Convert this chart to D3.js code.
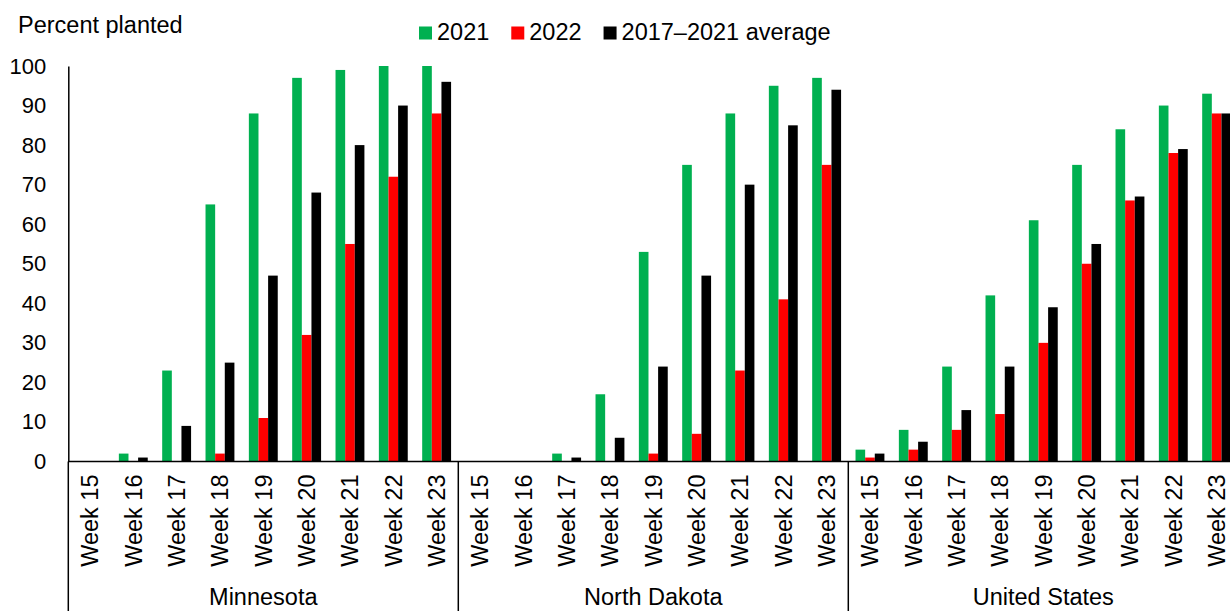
<!DOCTYPE html>
<html>
<head>
<meta charset="utf-8">
<script src="https://cdn.jsdelivr.net/npm/d3@7"></script>
<style>
  html, body { margin: 0; padding: 0; background: #fff; }
  svg { display: block; font-family: "Liberation Sans", Arial, sans-serif; }
</style>
</head>
<body>
<svg id="chart" width="1230" height="611"></svg>
<script>
// Planting progress by week: state groups, weekly categories, three series
const regions = ["Minnesota", "North Dakota", "United States"];
const weeks = ["Week 15", "Week 16", "Week 17", "Week 18", "Week 19", "Week 20", "Week 21", "Week 22", "Week 23"];
const seriesNames = ["2021", "2022", "2017\u20132021 average"];
const seriesColors = ["#00B050", "#FF0000", "#000000"];
const yTicks = [0, 10, 20, 30, 40, 50, 60, 70, 80, 90, 100];

// Percent planted, week 15 through week 23
const minnesota2021 = [0, 2, 23, 65, 88, 97, 99, 100, 100];
const minnesota2022 = [0, 0, 0, 2, 11, 32, 55, 72, 88];
const minnesotaAvg  = [0, 1, 9, 25, 47, 68, 80, 90, 96];

const northDakota2021 = [0, 0, 2, 17, 53, 75, 88, 95, 97];
const northDakota2022 = [0, 0, 0, 0, 2, 7, 23, 41, 75];
const northDakotaAvg  = [0, 0, 1, 6, 24, 47, 70, 85, 94];

const unitedStates2021 = [3, 8, 24, 42, 61, 75, 84, 90, 93];
const unitedStates2022 = [1, 3, 8, 12, 30, 50, 66, 78, 88];
const unitedStatesAvg  = [2, 5, 13, 24, 39, 55, 67, 79, 88];

const regionSeries = {
  "Minnesota": [minnesota2021, minnesota2022, minnesotaAvg],
  "North Dakota": [northDakota2021, northDakota2022, northDakotaAvg],
  "United States": [unitedStates2021, unitedStates2022, unitedStatesAvg]
};

// Flatten into one record per bar
const records = [];
regions.forEach(r => {
  weeks.forEach((w, i) => {
    seriesNames.forEach((s, k) => {
      records.push({ region: r, week: w, series: s, value: regionSeries[r][k][i] });
    });
  });
});

const svg = d3.select("#chart");
const tickFont = 22;
const labelFont = 23.5;

const plotLeft = 68.3;
const plotRight = 1238.3;
const plotTop = 66;
const plotBottom = 461.5;
const svgBottom = 611;

const x0 = d3.scaleBand().domain(regions).range([plotLeft, plotRight]).padding(0);
const x1 = d3.scaleBand().domain(weeks).range([0, x0.bandwidth()]).padding(0);
const x2 = d3.scaleBand().domain(seriesNames).range([0, x1.bandwidth()])
  .paddingInner(0).paddingOuter(0.75);
const y = d3.scaleLinear().domain([0, 100]).range([plotBottom, plotTop]);
const color = d3.scaleOrdinal().domain(seriesNames).range(seriesColors);

// Bars
svg.append("g")
  .selectAll("rect")
  .data(records)
  .join("rect")
  .attr("x", d => x0(d.region) + x1(d.week) + x2(d.series))
  .attr("width", x2.bandwidth())
  .attr("y", d => y(d.value))
  .attr("height", d => y(0) - y(d.value))
  .attr("fill", d => color(d.series));

// Y axis
const yAxis = svg.append("g")
  .attr("transform", `translate(${plotLeft},0)`)
  .call(d3.axisLeft(y).tickValues(yTicks).tickSize(0).tickSizeOuter(0).tickPadding(22));
yAxis.select(".domain").attr("stroke", "#000").attr("stroke-width", 1.5);
yAxis.selectAll("text")
  .attr("font-size", tickFont)
  .attr("font-family", "Liberation Sans, Arial, sans-serif")
  .attr("fill", "#000");

// Category axis baseline
svg.append("line")
  .attr("x1", plotLeft).attr("x2", plotRight)
  .attr("y1", y(0)).attr("y2", y(0))
  .attr("stroke", "#000").attr("stroke-width", 1.5);

// Group separators below the baseline
const boundaries = regions.map(r => x0(r)).concat([plotRight]);
svg.append("g")
  .selectAll("line")
  .data(boundaries)
  .join("line")
  .attr("x1", d => d).attr("x2", d => d)
  .attr("y1", y(0)).attr("y2", svgBottom)
  .attr("stroke", "#000").attr("stroke-width", 1.5);

// Week labels, rotated
const weekLabels = [];
regions.forEach(r => weeks.forEach(w => weekLabels.push({ region: r, week: w })));
svg.append("g")
  .selectAll("text")
  .data(weekLabels)
  .join("text")
  .attr("transform", d => `translate(${x0(d.region) + x1(d.week) + x1.bandwidth() / 2},${plotBottom + 13}) rotate(-90)`)
  .attr("text-anchor", "end")
  .attr("dy", "0.35em")
  .attr("font-size", labelFont)
  .attr("fill", "#000")
  .text(d => d.week);

// Region labels
svg.append("g")
  .selectAll("text")
  .data(regions)
  .join("text")
  .attr("x", d => x0(d) + x0.bandwidth() / 2)
  .attr("y", 605)
  .attr("text-anchor", "middle")
  .attr("font-size", labelFont)
  .attr("fill", "#000")
  .text(d => d);

// Axis title
svg.append("text")
  .attr("x", 18)
  .attr("y", 33)
  .attr("font-size", labelFont)
  .attr("fill", "#000")
  .text("Percent planted");

// Legend
const legend = svg.append("g").attr("transform", "translate(419,0)");
let lx = 0;
seriesNames.forEach((s, i) => {
  legend.append("rect")
    .attr("x", lx).attr("y", 26.5)
    .attr("width", 13).attr("height", 13)
    .attr("fill", color(s));
  const t = legend.append("text")
    .attr("x", lx + 18).attr("y", 40)
    .attr("font-size", labelFont)
    .attr("fill", "#000")
    .text(s);
  lx += 18 + t.node().getComputedTextLength() + 22;
});
</script>
</body>
</html>
